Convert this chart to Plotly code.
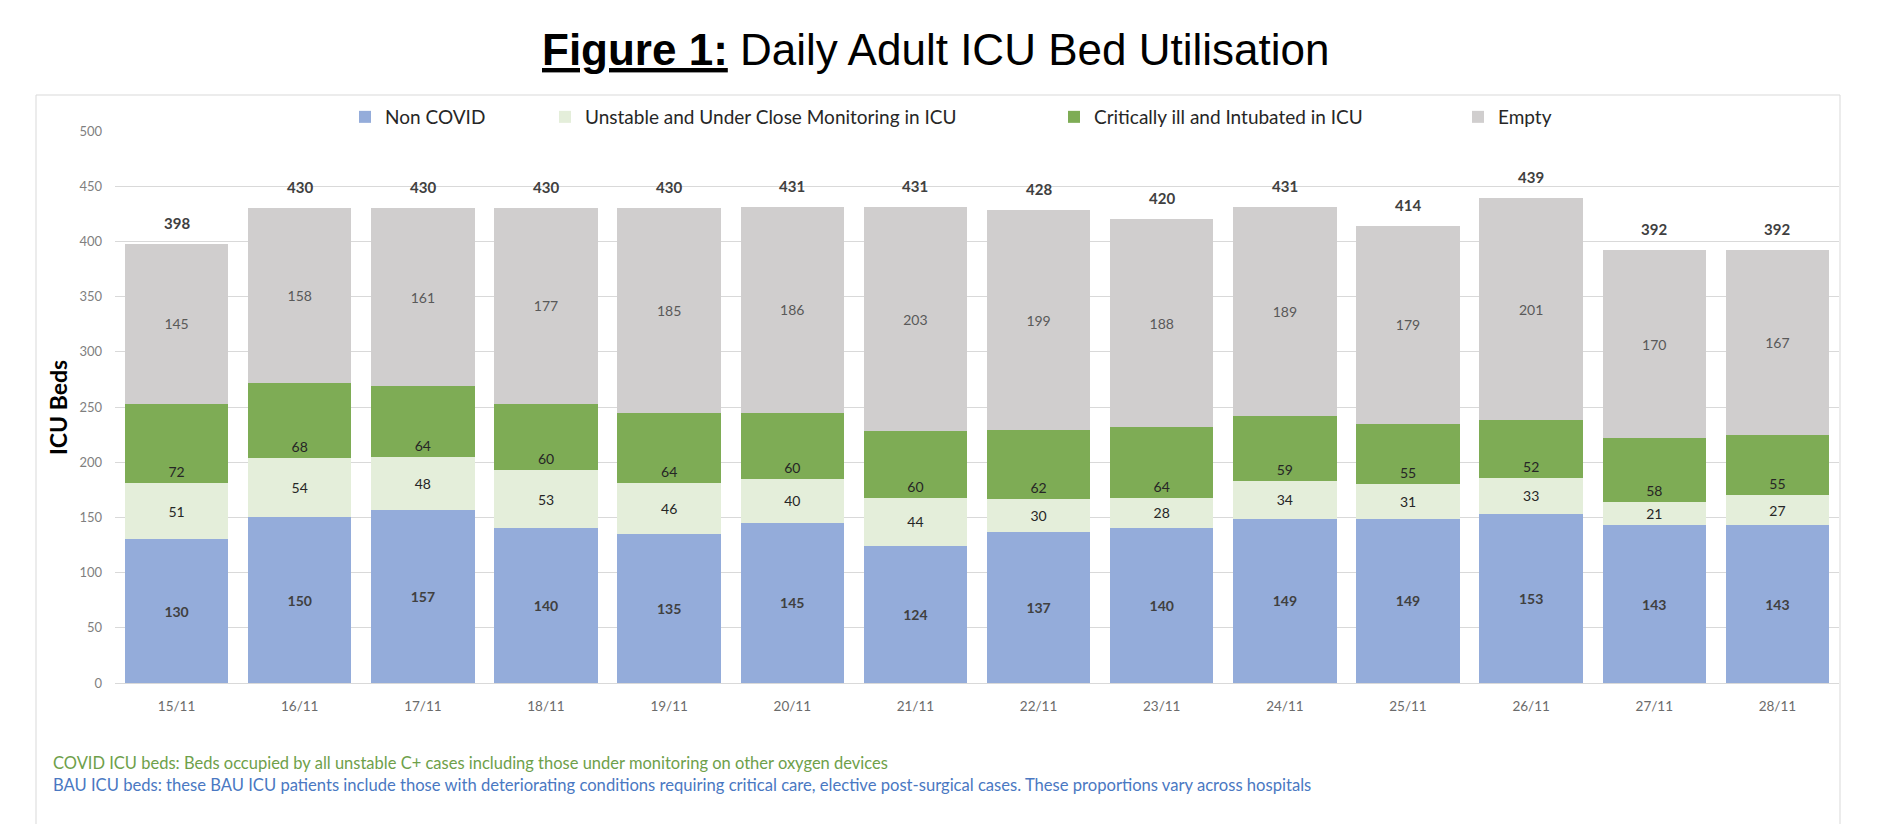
import plotly.graph_objects as go

# daily adult ICU bed figures
dates = ["15/11", "16/11", "17/11", "18/11", "19/11", "20/11", "21/11",
         "22/11", "23/11", "24/11", "25/11", "26/11", "27/11", "28/11"]
non_covid = [130, 150, 157, 140, 135, 145, 124, 137, 140, 149, 149, 153, 143, 143]
unstable = [51, 54, 48, 53, 46, 40, 44, 30, 28, 34, 31, 33, 21, 27]
critical = [72, 68, 64, 60, 64, 60, 60, 62, 64, 59, 55, 52, 58, 55]
empty = [145, 158, 161, 177, 185, 186, 203, 199, 188, 189, 179, 201, 170, 167]
y_ticks = [0, 50, 100, 150, 200, 250, 300, 350, 400, 450, 500]

totals = [a + b + c + d for a, b, c, d in zip(non_covid, unstable, critical, empty)]

FONT = "Lato, Carlito, Calibri, sans-serif"

series = [
    ("Non COVID", non_covid, "#94ACDA", "<b>%{y}</b>", "#404040", "middle", "legend"),
    ("Unstable and Under Close Monitoring in ICU", unstable, "#E4EEDA", "%{y}", "#262626", "middle", "legend2"),
    ("Critically ill and Intubated in ICU", critical, "#7EAC55", "%{y}", "#262626", "start", "legend3"),
    ("Empty", empty, "#D0CECE", "%{y}", "#595959", "middle", "legend4"),
]

fig = go.Figure()
for name, vals, color, tmpl, tcol, anchor, leg in series:
    fig.add_trace(go.Bar(
        x=dates, y=vals, name=name, legend=leg,
        marker=dict(color=color, line=dict(width=0)),
        texttemplate=tmpl, textposition="inside", insidetextanchor=anchor,
        textangle=0, constraintext="none",
        textfont=dict(family=FONT, size=14, color=tcol),
        hoverinfo="x+y+name",
    ))

# totals above the bars
for d, t in zip(dates, totals):
    fig.add_annotation(x=d, y=t, text="<b>%d</b>" % t, showarrow=False,
                       yshift=21, font=dict(family=FONT, size=15, color="#404040"))

# page px -> paper helpers (plot area on page: x 115..1839, y 131..683)
def px(x):
    return (x - 115) / 1724.0

def py(y):
    return (683 - y) / 552.0

leg_common = dict(orientation="h", xanchor="left", yanchor="middle", y=py(117),
                  font=dict(family=FONT, size=19, color="#262626"),
                  bgcolor="rgba(0,0,0,0)", borderwidth=0)
legend_x = [361, 565, 1082, 1482]

# the page body adds 8px around the figure, so the figure is 8px smaller
fig.update_layout(
    width=1870, height=816,
    margin=dict(l=107, r=39, t=123, b=141),
    paper_bgcolor="white", plot_bgcolor="white",
    barmode="stack", bargap=0.16,
    showlegend=True,
    legend=dict(x=px(legend_x[0] - 16), **leg_common),
    legend2=dict(x=px(legend_x[1] - 20), **leg_common),
    legend3=dict(x=px(legend_x[2] - 28), **leg_common),
    legend4=dict(x=px(legend_x[3] - 24), **leg_common),
    xaxis=dict(showgrid=False, showline=True, linecolor="#D9D9D9", linewidth=1,
               ticks="", ticklabelstandoff=11,
               tickfont=dict(family=FONT, size=13.5, color="#6B6B6B"),
               range=[-0.5, 13.5], fixedrange=True),
    yaxis=dict(range=[0, 500], tickvals=y_ticks, showgrid=True, gridcolor="#D9D9D9",
               gridwidth=1, zeroline=False, ticks="", ticklabelstandoff=12,
               tickfont=dict(family=FONT, size=13, color="#7F7F7F"), fixedrange=True),
)

# chart frame
fig.add_shape(type="rect", xref="paper", yref="paper",
              x0=px(36), x1=px(1840), y0=py(840), y1=py(95),
              line=dict(color="#D9D9D9", width=1), fillcolor="rgba(0,0,0,0)", layer="below")

# main title
fig.add_annotation(xref="paper", yref="paper", x=px(935), y=py(49),
                   text="<b><u>Figure 1:</u></b> Daily Adult ICU Bed Utilisation",
                   showarrow=False, xanchor="center", yanchor="middle",
                   font=dict(family="Liberation Sans, Arial, sans-serif", size=44, color="black"))

# y axis title
fig.add_annotation(xref="paper", yref="paper", x=px(58), y=py(407), text="<b>ICU Beds</b>",
                   textangle=-90, showarrow=False, xanchor="center", yanchor="middle",
                   font=dict(family=FONT, size=23, color="black"))

# footnotes
fig.add_annotation(xref="paper", yref="paper", x=px(51), y=py(763), xanchor="left", yanchor="middle",
                   text="COVID ICU beds: Beds occupied by all unstable C+ cases including those under monitoring on other oxygen devices",
                   showarrow=False, font=dict(family=FONT, size=16.5, color="#6EA04A"))
fig.add_annotation(xref="paper", yref="paper", x=px(51), y=py(785), xanchor="left", yanchor="middle",
                   text="BAU ICU beds: these BAU ICU patients include those with deteriorating conditions requiring critical care, elective post-surgical cases. These proportions vary across hospitals",
                   showarrow=False, font=dict(family=FONT, size=16.6, color="#4A78C2"))

fig.write_html("out.html")
